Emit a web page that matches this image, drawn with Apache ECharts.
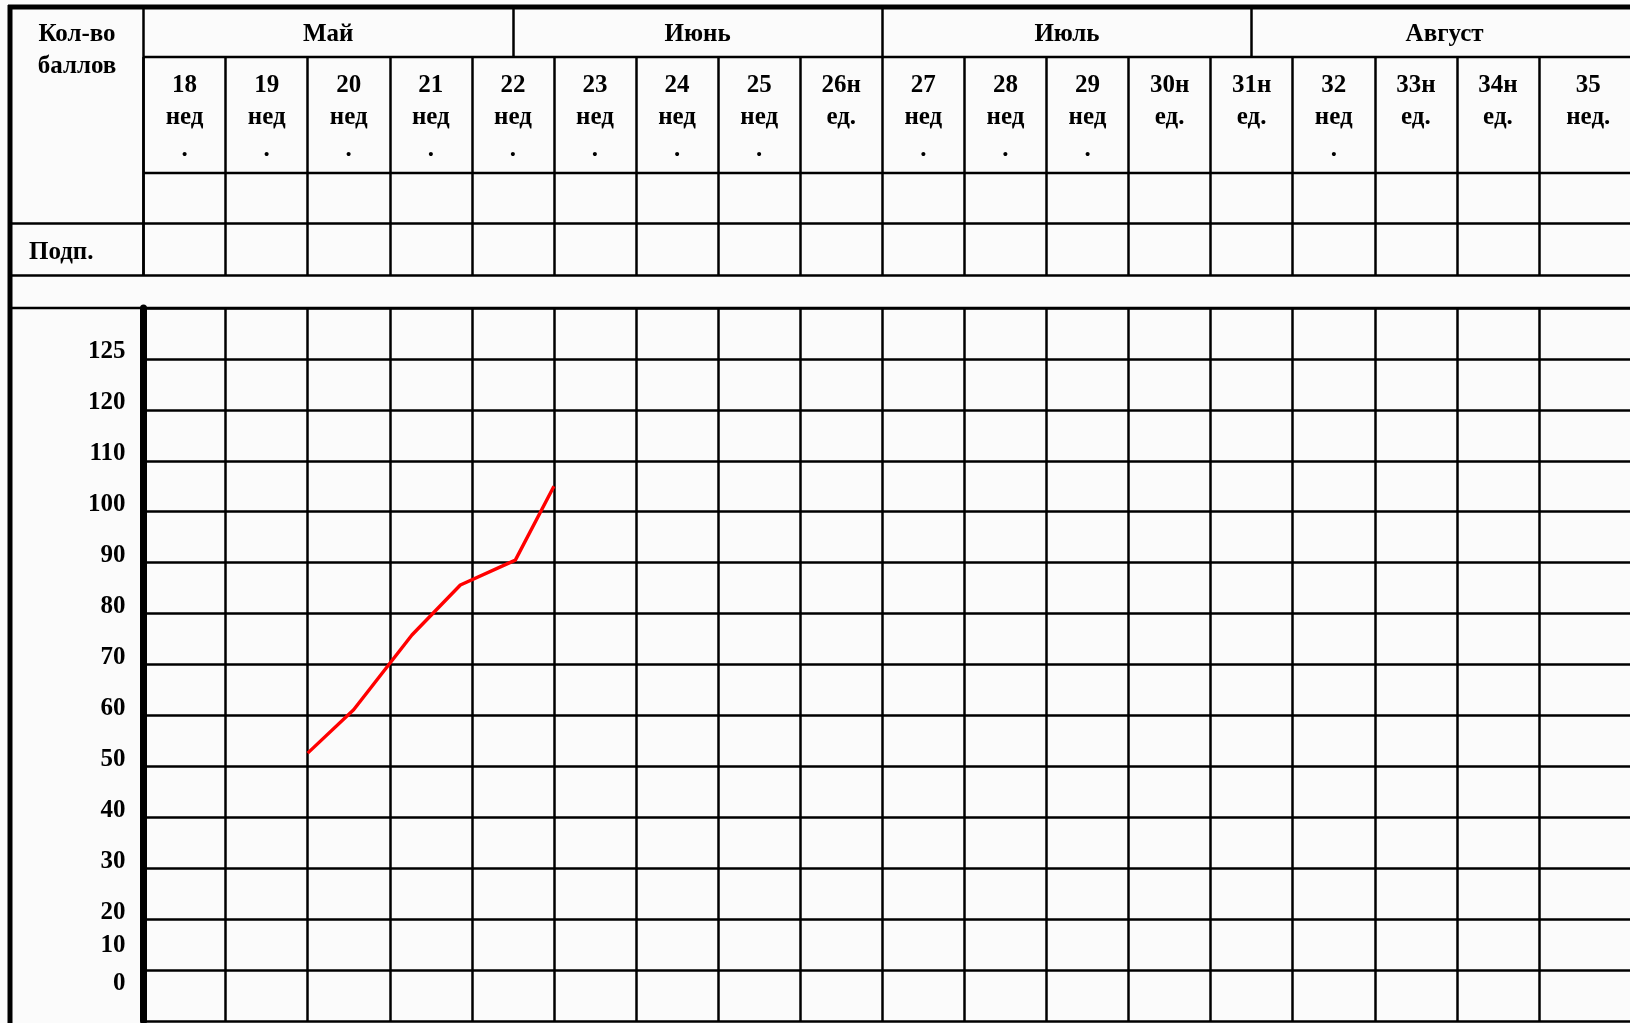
<!DOCTYPE html>
<html>
<head>
<meta charset="utf-8">
<script src="https://cdn.jsdelivr.net/npm/echarts@6/dist/echarts.min.js"></script>
<style>
	html, body { margin: 0; padding: 0; background: #fbfbfb; }
	#chart { width: 1630px; height: 1023px; }
</style>
</head>
<body>
<div id="chart"></div>
<script>
// колонки-недели
var weeks = [18, 19, 20, 21, 22, 23, 24, 25, 26, 27, 28, 29, 30, 31, 32, 33, 34, 35];
var weekLabels = ['18\nнед\n.', '19\nнед\n.', '20\nнед\n.', '21\nнед\n.', '22\nнед\n.', '23\nнед\n.',
	'24\nнед\n.', '25\nнед\n.', '26н\nед.', '27\nнед\n.', '28\nнед\n.', '29\nнед\n.', '30н\nед.',
	'31н\nед.', '32\nнед\n.', '33н\nед.', '34н\nед.', '35\nнед.'];
// месяцы (границы в неделях)
var months = ['Май', 'Июнь', 'Июль', 'Август'];
var monthStart = [18, 22.5, 27, 31.5];
var monthEnd = [22.5, 27, 31.5, 36.2];
// шкала баллов
var yTickValues = [0, 10, 20, 30, 40, 50, 60, 70, 80, 90, 100, 110, 120, 130];
var yTickLabels = ['0', '10', '20', '30', '40', '50', '60', '70', '80', '90', '100', '110', '120', '125'];
// результаты: положение (неделя) и баллы
var pointWeek = [20.0, 20.56, 21.27, 21.86, 22.53, 23.0];
var pointScore = [52.6, 61.1, 75.8, 85.6, 90.5, 105.0];

var xMin = 18, xMax = 36.2;
var gridLeft = 143.5, gridWidth = 1494;
var ink = '#000';

function txt(extra) {
	var o = { fontFamily: 'Liberation Serif', fontWeight: 'bold', fontSize: 25, color: ink };
	for(var k in extra) o[k] = extra[k];
	return o;
}

var monthCenters = [];
for(var i = 0; i < months.length; i++) {
	monthCenters.push((monthStart[i] + monthEnd[i]) / 2);
}
var weekCenters = [];
for(var i = 0; i < weeks.length; i++) {
	var end = i < weeks.length - 1 ? weeks[i + 1] : xMax;
	weekCenters.push((weeks[i] + end) / 2);
}
var lineData = [];
for(var i = 0; i < pointWeek.length; i++) {
	lineData.push([pointWeek[i], pointScore[i]]);
}

function hline(y, x1, x2, w) {
	return {
		type: 'line', z: 100, silent: true,
		shape: { x1: x1, y1: y, x2: x2, y2: y },
		style: { stroke: ink, lineWidth: w }
	};
}

// отдельная ось только для подписей (нижние подписи сдвинуты вверх)
function yLabelAxis(values, lift) {
	return {
		type: 'value', gridIndex: 0, min: 0, max: 140, position: 'left',
		axisLine: { show: false },
		axisTick: { show: false },
		splitLine: { show: false },
		axisLabel: txt({
			customValues: values,
			showMinLabel: true,
			showMaxLabel: true,
			margin: 18,
			verticalAlign: 'bottom',
			lineHeight: 14,
			formatter: function(v) {
				var k = yTickValues.indexOf(v);
				return k >= 0 ? '{s|' + yTickLabels[k] + '}' : '';
			},
			rich: { s: txt({ lineHeight: 14, padding: [0, 0, lift, 0] }) }
		})
	};
}

var myChart = echarts.init(document.getElementById('chart'));
var option = {
	backgroundColor: '#fbfbfb',
	animation: false,
	grid: [
		{ left: gridLeft, top: 308, width: gridWidth, height: 713, outerBoundsMode: 'none' },
		{ left: gridLeft, top: 57, width: gridWidth, height: 218.5, outerBoundsMode: 'none' },
		{ left: gridLeft, top: 7, width: gridWidth, height: 50, outerBoundsMode: 'none' }
	],
	xAxis: [{
		// основная ось графика
		type: 'value', gridIndex: 0, min: xMin, max: xMax, position: 'bottom',
		axisLine: { show: false },
		axisTick: { show: false, customValues: weeks },
		axisLabel: { show: false },
		splitLine: { show: true, lineStyle: { color: ink, width: 2.5 } }
	}, {
		// шапка: месяцы + вертикали недель
		type: 'value', gridIndex: 1, min: xMin, max: xMax, position: 'top',
		axisLine: { show: false },
		axisTick: { show: false, customValues: weeks },
		axisLabel: txt({
			customValues: monthCenters,
			margin: 22,
			verticalAlign: 'middle',
			formatter: function(v) {
				var k = monthCenters.indexOf(v);
				return k >= 0 ? months[k] : '';
			}
		}),
		splitLine: { show: true, lineStyle: { color: ink, width: 2.5 } }
	}, {
		// границы месяцев
		type: 'value', gridIndex: 2, min: xMin, max: xMax,
		axisLine: { show: false },
		axisTick: { show: false, customValues: monthStart.slice(1) },
		axisLabel: { show: false },
		splitLine: { show: true, lineStyle: { color: ink, width: 2.5 } }
	}, {
		// подписи недель
		type: 'value', gridIndex: 0, min: xMin, max: xMax, position: 'top',
		axisLine: { show: false },
		axisTick: { show: false },
		splitLine: { show: false },
		axisLabel: txt({
			customValues: weekCenters,
			margin: 238,
			verticalAlign: 'top',
			lineHeight: 32,
			formatter: function(v) {
				var k = weekCenters.indexOf(v);
				return k >= 0 ? weekLabels[k] : '';
			}
		})
	}],
	yAxis: [{
		type: 'value', gridIndex: 0, min: 0, max: 140, interval: 10,
		axisLine: { show: true, onZero: false, lineStyle: { color: ink, width: 7 } },
		axisTick: { show: false },
		splitLine: { show: true, lineStyle: { color: ink, width: 2.5 } },
		axisLabel: txt({
			customValues: yTickValues.slice(2),
			showMaxLabel: true,
			margin: 18,
			verticalAlign: 'bottom',
			lineHeight: 14,
			formatter: function(v) {
				var k = yTickValues.indexOf(v);
				return k >= 0 ? yTickLabels[k] : '';
			}
		})
	}, {
		type: 'value', gridIndex: 1, show: false
	}, {
		type: 'value', gridIndex: 2, show: false
	},
		yLabelAxis(yTickValues.slice(1, 2), 36),
		yLabelAxis(yTickValues.slice(0, 1), 61)
	],
	graphic: [
		hline(7, 8, 1630, 5),
		{
			type: 'line', z: 100, silent: true,
			shape: { x1: 10, y1: 5, x2: 10, y2: 1023 },
			style: { stroke: ink, lineWidth: 5 }
		},
		{
			type: 'line', z: 100, silent: true,
			shape: { x1: gridLeft, y1: 7, x2: gridLeft, y2: 275.5 },
			style: { stroke: ink, lineWidth: 2.5 }
		},
		hline(57, gridLeft, 1630, 2.5),
		hline(173, gridLeft, 1630, 2.5),
		hline(223.5, 10, 1630, 2.5),
		hline(275.5, 10, 1630, 2.5),
		hline(308, 10, 1630, 2.5),
		{
			type: 'text', z: 100, x: 77, y: 19,
			style: { text: 'Кол-во\nбаллов', lineHeight: 32, align: 'center', fill: ink,
				font: 'bold 25px "Liberation Serif"' }
		},
		{
			type: 'text', z: 100, x: 29, y: 253,
			style: { text: 'Подп.', fill: ink, verticalAlign: 'middle', font: 'bold 25px "Liberation Serif"' }
		}
	],
	series: [{
		type: 'line',
		xAxisIndex: 0,
		yAxisIndex: 0,
		data: lineData,
		showSymbol: false,
		symbol: 'none',
		lineStyle: { color: '#ff0000', width: 3.4 },
		z: 10
	}]
};
myChart.setOption(option);
</script>
</body>
</html>
